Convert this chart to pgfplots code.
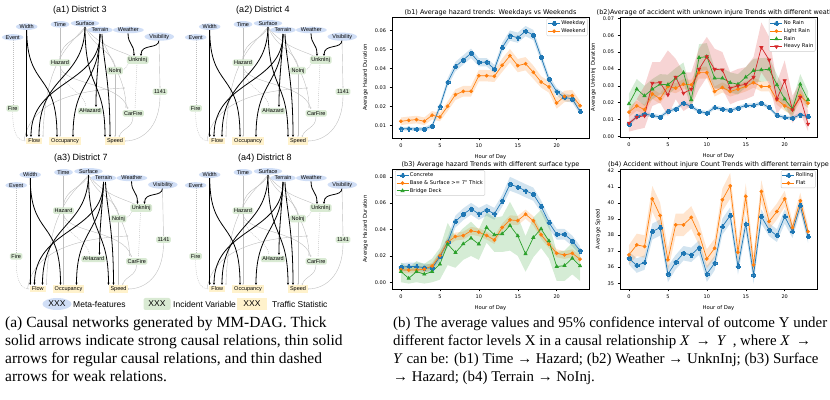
\documentclass[border=0pt]{standalone}
\usepackage{fontspec}
\setmainfont{Liberation Sans}
\newfontfamily\dv{DejaVu Sans}
\newfontfamily\capf{Liberation Serif}
\usepackage{pgfplots}
\usepackage{pgfplotstable}
\pgfplotsset{compat=1.18}
\usepgfplotslibrary{fillbetween}
\usetikzlibrary{arrows.meta,shapes.geometric}

\definecolor{C0}{RGB}{31,119,180}
\definecolor{C1}{RGB}{255,127,14}
\definecolor{C2}{RGB}{44,160,44}
\definecolor{C3}{RGB}{214,39,40}
\definecolor{metablue}{RGB}{208,222,246}
\definecolor{incgreen}{RGB}{217,234,211}
\definecolor{trayel}{RGB}{255,242,204}
\definecolor{edgegray}{RGB}{190,190,190}

% matplotlib-like filled plus
\pgfdeclareplotmark{Pfill}{%
  \pgfpathmoveto{\pgfqpoint{-0.38\pgfplotmarksize}{\pgfplotmarksize}}%
  \pgfpathlineto{\pgfqpoint{0.38\pgfplotmarksize}{\pgfplotmarksize}}%
  \pgfpathlineto{\pgfqpoint{0.38\pgfplotmarksize}{0.38\pgfplotmarksize}}%
  \pgfpathlineto{\pgfqpoint{\pgfplotmarksize}{0.38\pgfplotmarksize}}%
  \pgfpathlineto{\pgfqpoint{\pgfplotmarksize}{-0.38\pgfplotmarksize}}%
  \pgfpathlineto{\pgfqpoint{0.38\pgfplotmarksize}{-0.38\pgfplotmarksize}}%
  \pgfpathlineto{\pgfqpoint{0.38\pgfplotmarksize}{-\pgfplotmarksize}}%
  \pgfpathlineto{\pgfqpoint{-0.38\pgfplotmarksize}{-\pgfplotmarksize}}%
  \pgfpathlineto{\pgfqpoint{-0.38\pgfplotmarksize}{-0.38\pgfplotmarksize}}%
  \pgfpathlineto{\pgfqpoint{-\pgfplotmarksize}{-0.38\pgfplotmarksize}}%
  \pgfpathlineto{\pgfqpoint{-\pgfplotmarksize}{0.38\pgfplotmarksize}}%
  \pgfpathlineto{\pgfqpoint{-0.38\pgfplotmarksize}{0.38\pgfplotmarksize}}%
  \pgfpathclose\pgfusepathqfillstroke}

\pgfplotsset{
  hourax/.style={
    scale only axis, width=197pt,
    xmin=-1.15, xmax=24.15, xtick={0,5,10,15,20},
    tick align=outside, tick pos=left, major tick length=2.5pt,
    every tick/.style={black, line width=0.5pt},
    axis line style={line width=0.5pt},
    tick label style={font=\dv\fontsize{5}{6}\selectfont},
    label style={font=\dv\fontsize{5.3}{6}\selectfont},
    every axis title shift=0pt,
    title style={font=\dv\fontsize{6.5}{7.5}\selectfont, inner sep=1pt},
    xlabel={Hour of Day},
    scaled y ticks=false,
    /pgf/number format/assume math mode=true,
    legend style={font=\dv\fontsize{5.2}{6}\selectfont, draw=black!20,
      rounded corners=1pt, inner sep=1pt, row sep=0.3pt, nodes={inner sep=1pt}},
    legend cell align=left,
    legend image code/.code={\draw[mark repeat=2,mark phase=2,##1]
      plot coordinates {(0pt,0pt) (6pt,0pt) (12pt,0pt)};},
  },
  dec2/.style={yticklabel style={/pgf/number format/fixed,
      /pgf/number format/fixed zerofill, /pgf/number format/precision=2}},
  sA/.style={color=C0, mark=Pfill, mark size=2pt, line width=0.7pt, mark options={line width=0.2pt}},
  sB/.style={color=C1, mark=*, mark size=1.5pt, line width=0.7pt},
  sC/.style={color=C2, mark=triangle*, mark size=1.8pt, line width=0.7pt},
  sD/.style={color=C3, mark=triangle*, mark size=1.8pt, line width=0.7pt, mark options={rotate=180}},
}

% confidence band: table, low column, high column, colour
\newcommand\band[4]{%
  \addplot[name path=L#2, draw=none, forget plot] table[x=h,y=#2]{#1};
  \addplot[name path=H#2, draw=none, forget plot] table[x=h,y=#3]{#1};
  \addplot[#4, fill opacity=0.2, draw=none, forget plot] fill between[of=L#2 and H#2];
}

% (b1) weekday / weekend
\pgfplotstableread{
h a alo ahi b blo bhi
0 0.0084 0.0074 0.0094 0.0123 0.0103 0.0143
1 0.0084 0.0074 0.0094 0.0128 0.0108 0.0148
2 0.0082 0.0072 0.0092 0.0132 0.0112 0.0152
3 0.0082 0.0072 0.0092 0.0123 0.0103 0.0143
4 0.0098 0.0086 0.0110 0.0155 0.0133 0.0177
5 0.0200 0.0180 0.0220 0.0145 0.0123 0.0167
6 0.0328 0.0306 0.0350 0.0202 0.0177 0.0227
7 0.0411 0.0386 0.0436 0.0263 0.0235 0.0291
8 0.0446 0.0421 0.0471 0.0281 0.0253 0.0309
9 0.0481 0.0456 0.0506 0.0281 0.0253 0.0309
10 0.0434 0.0412 0.0456 0.0363 0.0333 0.0393
11 0.0434 0.0412 0.0456 0.0363 0.0333 0.0393
12 0.0398 0.0376 0.0420 0.0360 0.0330 0.0390
13 0.0511 0.0486 0.0536 0.0418 0.0383 0.0453
14 0.0574 0.0547 0.0601 0.0468 0.0433 0.0503
15 0.0563 0.0536 0.0590 0.0416 0.0381 0.0451
16 0.0598 0.0571 0.0625 0.0426 0.0391 0.0461
17 0.0577 0.0550 0.0604 0.0381 0.0346 0.0416
18 0.0460 0.0435 0.0485 0.0330 0.0300 0.0360
19 0.0344 0.0322 0.0366 0.0304 0.0274 0.0334
20 0.0279 0.0259 0.0299 0.0219 0.0189 0.0249
21 0.0249 0.0229 0.0269 0.0254 0.0224 0.0284
22 0.0241 0.0221 0.0261 0.0258 0.0228 0.0288
23 0.0174 0.0159 0.0189 0.0205 0.0180 0.0230
}\tbone

% (b2) weather
\pgfplotstableread{
h a alo ahi b blo bhi c clo chi d dlo dhi
0 0.0073 0.0061 0.0085 0.0144 0.0114 0.0174 0.0193 0.0133 0.0253 0.0079 0.0028 0.0150
1 0.0118 0.0106 0.0130 0.0181 0.0151 0.0211 0.0280 0.0220 0.0340 0.0114 0.0040 0.0220
2 0.0132 0.0120 0.0144 0.0158 0.0128 0.0188 0.0240 0.0180 0.0300 0.0122 0.0050 0.0300
3 0.0124 0.0112 0.0136 0.0252 0.0222 0.0282 0.0280 0.0220 0.0340 0.0315 0.0180 0.0440
4 0.0114 0.0102 0.0126 0.0223 0.0193 0.0253 0.0309 0.0249 0.0369 0.0319 0.0200 0.0440
5 0.0148 0.0136 0.0160 0.0296 0.0266 0.0326 0.0306 0.0246 0.0366 0.0246 0.0120 0.0510
6 0.0162 0.0150 0.0174 0.0286 0.0256 0.0316 0.0345 0.0285 0.0405 0.0351 0.0220 0.0460
7 0.0197 0.0185 0.0209 0.0309 0.0279 0.0339 0.0378 0.0318 0.0438 0.0256 0.0150 0.0380
8 0.0177 0.0165 0.0189 0.0306 0.0276 0.0336 0.0217 0.0167 0.0267 0.0280 0.0180 0.0380
9 0.0148 0.0136 0.0160 0.0378 0.0343 0.0413 0.0467 0.0387 0.0547 0.0398 0.0280 0.0520
10 0.0138 0.0126 0.0150 0.0378 0.0343 0.0413 0.0473 0.0393 0.0553 0.0473 0.0350 0.0590
11 0.0171 0.0159 0.0183 0.0266 0.0236 0.0296 0.0345 0.0285 0.0405 0.0398 0.0280 0.0520
12 0.0162 0.0150 0.0174 0.0290 0.0260 0.0320 0.0345 0.0285 0.0405 0.0394 0.0280 0.0500
13 0.0154 0.0142 0.0166 0.0266 0.0236 0.0296 0.0319 0.0259 0.0379 0.0286 0.0190 0.0380
14 0.0168 0.0156 0.0180 0.0280 0.0250 0.0310 0.0309 0.0249 0.0369 0.0300 0.0210 0.0400
15 0.0183 0.0171 0.0195 0.0296 0.0266 0.0326 0.0351 0.0291 0.0411 0.0309 0.0220 0.0410
16 0.0183 0.0171 0.0195 0.0319 0.0289 0.0349 0.0390 0.0320 0.0460 0.0351 0.0240 0.0470
17 0.0197 0.0185 0.0209 0.0296 0.0266 0.0326 0.0394 0.0324 0.0464 0.0528 0.0380 0.0676
18 0.0171 0.0159 0.0183 0.0296 0.0266 0.0326 0.0398 0.0328 0.0468 0.0453 0.0310 0.0590
19 0.0124 0.0112 0.0136 0.0217 0.0187 0.0247 0.0306 0.0246 0.0366 0.0221 0.0130 0.0320
20 0.0112 0.0100 0.0124 0.0181 0.0151 0.0211 0.0221 0.0161 0.0281 0.0331 0.0200 0.0450
21 0.0108 0.0096 0.0120 0.0158 0.0128 0.0188 0.0162 0.0112 0.0212 0.0158 0.0080 0.0240
22 0.0128 0.0116 0.0140 0.0240 0.0205 0.0275 0.0309 0.0249 0.0369 0.0231 0.0140 0.0320
23 0.0118 0.0106 0.0130 0.0197 0.0167 0.0227 0.0217 0.0167 0.0267 0.0073 0.0030 0.0150
}\tbtwo

% (b3) surface type
\pgfplotstableread{
h a alo ahi b blo bhi c clo chi
0 0.0114 0.0084 0.0144 0.0095 0.0070 0.0120 0.0081 0.0000 0.0150
1 0.0120 0.0090 0.0150 0.0092 0.0067 0.0117 0.0030 -0.0010 0.0110
2 0.0119 0.0089 0.0149 0.0093 0.0068 0.0118 0.0081 0.0000 0.0160
3 0.0111 0.0081 0.0141 0.0099 0.0074 0.0124 0.0061 -0.0010 0.0140
4 0.0106 0.0076 0.0136 0.0124 0.0099 0.0149 0.0081 0.0000 0.0180
5 0.0195 0.0160 0.0230 0.0202 0.0172 0.0232 0.0137 0.0020 0.0260
6 0.0304 0.0264 0.0344 0.0304 0.0274 0.0334 0.0289 0.0130 0.0450
7 0.0461 0.0416 0.0506 0.0347 0.0317 0.0377 0.0225 0.0110 0.0350
8 0.0516 0.0471 0.0561 0.0354 0.0324 0.0384 0.0291 0.0170 0.0410
9 0.0557 0.0512 0.0602 0.0390 0.0360 0.0420 0.0334 0.0200 0.0460
10 0.0519 0.0474 0.0564 0.0380 0.0350 0.0410 0.0289 0.0170 0.0400
11 0.0549 0.0504 0.0594 0.0354 0.0324 0.0384 0.0415 0.0300 0.0530
12 0.0519 0.0474 0.0564 0.0321 0.0291 0.0351 0.0360 0.0230 0.0490
13 0.0618 0.0573 0.0663 0.0415 0.0385 0.0445 0.0367 0.0230 0.0500
14 0.0744 0.0694 0.0800 0.0473 0.0438 0.0508 0.0430 0.0240 0.0610
15 0.0722 0.0672 0.0772 0.0468 0.0433 0.0503 0.0352 0.0200 0.0500
16 0.0694 0.0644 0.0744 0.0516 0.0481 0.0551 0.0215 0.0080 0.0350
17 0.0668 0.0618 0.0718 0.0466 0.0431 0.0501 0.0339 0.0190 0.0490
18 0.0575 0.0530 0.0620 0.0360 0.0330 0.0390 0.0405 0.0260 0.0550
19 0.0453 0.0408 0.0498 0.0289 0.0259 0.0319 0.0314 0.0180 0.0450
20 0.0364 0.0324 0.0404 0.0220 0.0190 0.0250 0.0119 0.0010 0.0230
21 0.0364 0.0324 0.0404 0.0207 0.0177 0.0237 0.0126 0.0010 0.0240
22 0.0314 0.0274 0.0354 0.0220 0.0190 0.0250 0.0182 0.0060 0.0300
23 0.0240 0.0205 0.0275 0.0175 0.0145 0.0205 0.0124 0.0010 0.0240
}\tbthree

% (b4) terrain
\pgfplotstableread{
h a alo ahi b blo bhi
0 36.56 36.16 36.96 36.77 36.17 37.37
1 36.10 35.65 36.55 37.39 36.69 38.09
2 36.29 35.84 36.74 37.29 36.59 37.99
3 38.22 37.72 38.72 40.26 39.46 41.06
4 38.47 37.97 38.97 39.22 38.42 40.02
5 35.56 35.06 36.06 36.46 35.76 37.16
6 36.31 35.86 36.76 38.64 37.94 39.34
7 36.87 36.42 37.32 38.64 37.94 39.34
8 36.77 36.32 37.22 39.10 38.40 39.80
9 37.22 36.77 37.67 38.06 37.36 38.76
10 35.58 35.08 36.08 36.52 35.92 37.12
11 36.25 35.80 36.70 37.18 36.58 37.78
12 38.53 38.03 39.03 40.20 39.50 40.90
13 39.22 38.72 39.72 41.07 40.27 41.87
14 36.04 35.54 36.54 36.93 36.23 37.63
15 38.70 38.20 39.20 40.41 39.61 41.21
16 35.52 34.97 36.07 36.14 35.44 36.84
17 39.16 38.71 39.61 40.72 40.02 41.42
18 38.33 37.93 38.73 38.85 38.35 39.35
19 37.97 37.57 38.37 39.47 38.97 39.97
20 39.16 38.71 39.61 40.26 39.76 40.76
21 38.22 37.82 38.62 38.47 38.07 38.87
22 39.84 39.44 40.24 40.14 39.64 40.64
23 37.91 37.51 38.31 38.22 37.82 38.62
}\tbfour

\tikzset{
  meta/.style={ellipse, fill=metablue, inner xsep=0.6pt, inner ysep=0.3pt, font=\fontsize{5.5}{6}\selectfont},
  inc/.style={rounded corners=1.5pt, fill=incgreen, inner xsep=1.5pt, inner ysep=1.2pt, font=\fontsize{5.5}{6}\selectfont},
  tra/.style={fill=trayel, inner xsep=2pt, inner ysep=1.4pt, font=\fontsize{5.5}{6}\selectfont},
  thk/.style={-{Stealth[length=2.4pt,width=2.2pt]}, line width=0.8pt, black},
  reg/.style={-{Stealth[length=1.6pt,width=1.4pt]}, edgegray, line width=0.4pt},
  weak/.style={dash pattern=on 1pt off 1pt, edgegray, line width=0.4pt},
  capl/.style={anchor=base west, inner sep=0pt, font=\capf\fontsize{15.5}{17.7}\selectfont},
  capr/.style={anchor=base west, inner sep=0pt, font=\capf\fontsize{14.9}{17.7}\selectfont},
}

% one causal network, local coordinates in px, y downwards
\newcommand\dagbody{%
  \draw[reg] (60,28) -- (60,137);
  \draw[reg] (85,27) .. controls (80,40) and (62,40) .. (60,58);
  \draw[reg] (85,27) .. controls (95,50) and (112,50) .. (115,67);
  \draw[reg] (85,27) .. controls (100,48) and (125,52) .. (132,57);
  \draw[reg] (159,40) -- (160,88);
  \draw[reg] (160,95) .. controls (160,130) and (140,141) .. (124,141);
  \draw[reg] (115,74) -- (115,137);
  \draw[reg] (60,66) .. controls (62,85) and (120,82) .. (128,109);
  \draw[reg] (133,117) .. controls (133,128) and (122,128) .. (119,137);
  \draw[reg] (85,27) .. controls (70,45) and (45,60) .. (43,137);
  \draw[reg] (100,34) .. controls (110,60) and (126,80) .. (126,108);
  \draw[reg] (24,141) .. controls (30,100) and (80,90) .. (125,88);
  \draw[weak] (12.7,40) -- (12.7,105);
  \draw[weak] (12.7,112) .. controls (12.7,135) and (18,141) .. (26,141);
  \draw[weak] (60,66) .. controls (62,90) and (84,90) .. (86,107);
  \draw[weak] (137,63) -- (135,109);
  \draw[weak] (129,62) .. controls (126,68) .. (123,70);
  \draw[thk] (26.7,30) -- (26.7,137);
  \draw[thk] (26.7,30) .. controls (27,90) and (57,70) .. (57,137);
  \draw[thk] (85,27) .. controls (84,80) and (39,75) .. (39,137);
  \draw[thk] (100,34) .. controls (100,85) and (31,80) .. (31,137);
  \draw[thk] (100,34) .. controls (99,85) and (73,80) .. (73,137);
  \draw[thk] (85,27) .. controls (85,90) and (105,80) .. (105,137);
  \draw[thk] (102,34) .. controls (103,60) and (110,80) .. (110,137);
  \draw[thk] (100,34) .. controls (98,70) and (96,80) .. (96,107);
  \draw[thk] (128,33) .. controls (128,45) and (134,43) .. (134,56);
  \draw[thk] (159,40) .. controls (159,50) and (141,43) .. (141,56);
  \node[meta] at (12.7,37.3) {Event};
  \node[meta] at (26.7,26.7) {Width};
  \node[meta] at (60,24.3) {Time};
  \node[meta] at (85,23.3) {Surface};
  \node[meta] at (100,30) {Terrain};
  \node[meta] at (128.3,30) {Weather};
  \node[meta] at (159.3,36.7) {Visibility};
  \node[inc] at (60,62.7) {Hazard};
  \node[inc] at (137.7,60) {UnknInj};
  \node[inc] at (115,70.7) {NoInj};
  \node[inc] at (160,91.7) {1141};
  \node[inc] at (12.7,108.3) {Fire};
  \node[inc] at (90,111) {AHazard};
  \node[inc] at (133.3,113.3) {CarFire};
  \node[tra] at (34.3,141) {Flow};
  \node[tra] at (65,141) {Occupancy};
  \node[tra] at (115,141) {Speed};
}

\begin{document}
\begin{tikzpicture}

% ---------- left: causal networks ----------
\begin{scope}[x=1pt, y=-1pt, yshift=399pt]
  \dagbody
  \begin{scope}[shift={(183,0)}]\dagbody\end{scope}
  \begin{scope}[shift={(3.5,148)}]\dagbody\end{scope}
  \begin{scope}[shift={(183,148)}]\dagbody\end{scope}
  \node[font=\fontsize{9}{10}\selectfont] at (80,10) {(a1) District 3};
  \node[font=\fontsize{9}{10}\selectfont] at (263,10) {(a2) District 4};
  \node[font=\fontsize{9}{10}\selectfont] at (81,158) {(a3) District 7};
  \node[font=\fontsize{9}{10}\selectfont] at (265,158) {(a4) District 8};
  % legend
  \node[ellipse, fill=metablue, minimum width=29pt, minimum height=12pt, inner sep=0pt,
        font=\fontsize{8.5}{9}\selectfont] at (57,304) {XXX};
  \node[anchor=west, inner sep=0pt, font=\fontsize{8.5}{9}\selectfont] at (73,304) {Meta-features};
  \node[fill=incgreen, rounded corners=2pt, minimum width=27pt, minimum height=12pt, inner sep=0pt,
        font=\fontsize{8.5}{9}\selectfont] at (157,304) {XXX};
  \node[anchor=west, inner sep=0pt, font=\fontsize{8.5}{9}\selectfont] at (173,304) {Incident Variable};
  \node[fill=trayel, minimum width=30pt, minimum height=12pt, inner sep=0pt,
        font=\fontsize{8.5}{9}\selectfont] at (252,304) {XXX};
  \node[anchor=west, inner sep=0pt, font=\fontsize{8.5}{9}\selectfont] at (272,304) {Traffic Statistic};
  % captions
  \node[capl] at (5,328) {(a) Causal networks generated by MM-DAG. Thick};
  \node[capl] at (5,345.7) {solid arrows indicate strong causal relations, thin solid};
  \node[capl] at (5,363.4) {arrows for regular causal relations, and thin dashed};
  \node[capl] at (5,381.1) {arrows for weak relations.};
  \node[capr] at (393,328) {(b) The average values and 95\% confidence interval of outcome Y under};
  \node[capr] at (393,345.7) {different factor levels X in a causal relationship \textit{X}\, →\, \textit{Y}\, , where \textit{X}\, →};
  \node[capr] at (393,363.4) {\textit{Y} can be: (b1) Time → Hazard; (b2) Weather → UnknInj; (b3) Surface};
  \node[capr] at (393,381.1) {→ Hazard; (b4) Terrain → NoInj.};
\end{scope}

% ---------- (b1) ----------
\begin{axis}[hourax, dec2, at={(392pt,261pt)}, anchor=south west, height=121pt,
  ymin=0.0035, ymax=0.0672, ytick={0.01,0.02,0.03,0.04,0.05,0.06},
  ylabel={Average Hazard Duration},
  title={(b1) Average hazard trends: Weekdays vs Weekends},
  legend style={at={(1,1)}, anchor=north east, xshift=-1.5pt, yshift=-1.5pt}]
  \band{\tbone}{alo}{ahi}{C0}
  \band{\tbone}{blo}{bhi}{C1}
  \addplot[sA] table[x=h,y=a]{\tbone};
  \addplot[sB] table[x=h,y=b]{\tbone};
  \legend{Weekday, Weekend}
\end{axis}

% ---------- (b2) ----------
\begin{axis}[hourax, dec2, at={(620pt,262pt)}, anchor=south west, height=120pt,
  ymin=-0.0004, ymax=0.0708, ytick={0,0.01,0.02,0.03,0.04,0.05,0.06,0.07},
  ylabel={Average UnknInj Duration},
  title={(b2)Average of accident with unknown injure Trends with different weather},
  legend style={at={(1,1)}, anchor=north east, xshift=-1.5pt, yshift=-1.5pt}]
  \band{\tbtwo}{alo}{ahi}{C0}
  \band{\tbtwo}{blo}{bhi}{C1}
  \band{\tbtwo}{clo}{chi}{C2}
  \band{\tbtwo}{dlo}{dhi}{C3}
  \addplot[sA] table[x=h,y=a]{\tbtwo};
  \addplot[sB] table[x=h,y=b]{\tbtwo};
  \addplot[sC] table[x=h,y=c]{\tbtwo};
  \addplot[sD] table[x=h,y=d]{\tbtwo};
  \legend{No Rain, Light Rain, Rain, Heavy Rain}
\end{axis}

% ---------- (b3) ----------
\begin{axis}[hourax, dec2, at={(392pt,110pt)}, anchor=south west, height=120pt,
  ymin=-0.0051, ymax=0.0859, ytick={0,0.02,0.04,0.06,0.08},
  ylabel={Average Hazard Duration},
  title={(b3) Average hazard Trends with different surface type},
  legend style={at={(0,1)}, anchor=north west, xshift=3pt, yshift=-1.5pt}]
  \band{\tbthree}{alo}{ahi}{C0}
  \band{\tbthree}{blo}{bhi}{C1}
  \band{\tbthree}{clo}{chi}{C2}
  \addplot[sA] table[x=h,y=a]{\tbthree};
  \addplot[sB] table[x=h,y=b]{\tbthree};
  \addplot[sC] table[x=h,y=c]{\tbthree};
  \legend{Concrete, Base \& Surface >= 7" Thick, Bridge Deck}
\end{axis}

% ---------- (b4) ----------
\begin{axis}[hourax, at={(620pt,110pt)}, anchor=south west, height=120pt,
  ymin=34.64, ymax=42.12, ytick={35,36,37,38,39,40,41,42},
  ylabel={Average Speed},
  title={(b4) Accident without injure Count Trends with different terrain type},
  legend style={at={(1,1)}, anchor=north east, xshift=-1.5pt, yshift=-1.5pt}]
  \band{\tbfour}{alo}{ahi}{C0}
  \band{\tbfour}{blo}{bhi}{C1}
  \addplot[sA] table[x=h,y=a]{\tbfour};
  \addplot[sB] table[x=h,y=b]{\tbfour};
  \legend{Rolling, Flat}
\end{axis}

\pgfresetboundingbox
\path[use as bounding box] (0pt,0pt) rectangle (830pt,399pt);
\end{tikzpicture}
\end{document}
